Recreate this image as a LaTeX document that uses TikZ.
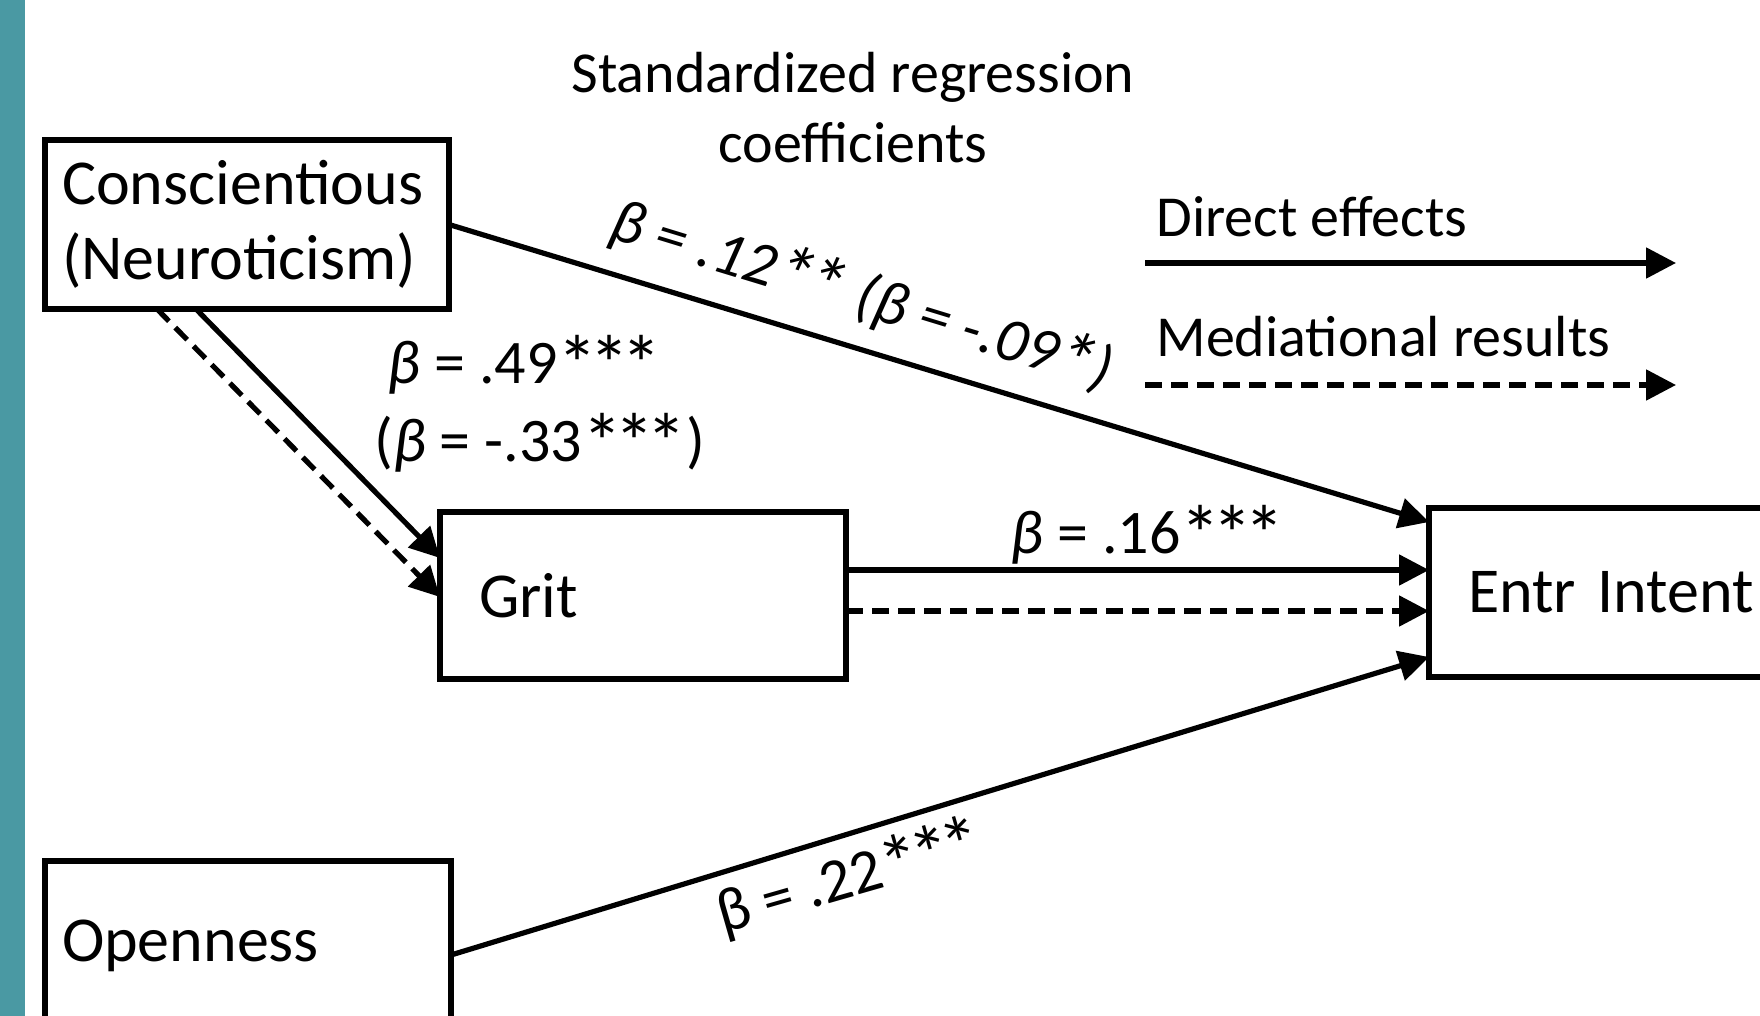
\documentclass[tikz,border=0pt]{standalone}
\usepackage{fontspec}
\setmainfont{Carlito}
\usetikzlibrary{arrows.meta}
\definecolor{barteal}{RGB}{74,153,163}
\newcommand\stk{\raisebox{-0.14em}{\scalebox{1.3}{*}}\kern-0.13em}
\begin{document}
\begin{tikzpicture}[x=0.5pt,y=-0.5pt,
  box/.style={draw=black,line width=2.6pt,outer sep=0pt,anchor=north west,align=left,inner ysep=0pt,
    font=\fontsize{32}{37.5}\selectfont},
  lbl/.style={inner sep=0pt,font=\fontsize{31}{37}\selectfont},
  legtext/.style={inner sep=0pt,anchor=west,font=\fontsize{29}{35}\selectfont},
  arr/.style={line width=2.6pt,-{Triangle[length=15pt,width=15pt]}},
  darr/.style={arr,dash pattern=on 8.5pt off 4.5pt}]
\clip (0,0) rectangle (1760,1016);
\fill[white] (0,0) rectangle (1760,1016);
\fill[barteal] (0,0) rectangle (25,1016);
% title
\node[inner sep=0pt,align=center,font=\fontsize{29}{35}\selectfont] (title) at (853,108)
  {Standardized regression\\coefficients};
% boxes
\node[box,inner xsep=8.5pt,text width=185pt,minimum height=84.5pt] (consc) at (45,140)
  {Conscientious\\(Neuroticism)};
\node[box,inner xsep=19.5pt,text width=164pt,minimum height=83.5pt] (grit) at (440,512) {Grit};
\node[box,inner xsep=19.5pt,text width=200pt,minimum height=84.5pt] (entr) at (1429,508) {Entr Intent};
\node[box,inner xsep=8.5pt,text width=186pt,minimum height=84.5pt] (open) at (45,861) {Openness};
% connectors
\draw[arr] (consc.east) -- ([yshift=-7pt]entr.north west);
\draw[arr] ([xshift=75.5pt]consc.south west) -- ([yshift=-23pt]grit.north west);
\draw[darr] ([xshift=56pt]consc.south west) -- ([yshift=-42.5pt]grit.north west);
\coordinate (g1) at ([yshift=-29pt]grit.north east);
\coordinate (g2) at ([yshift=-49.5pt]grit.north east);
\draw[arr] (g1) -- (g1 -| entr.west);
\draw[darr] (g2) -- (g2 -| entr.west);
\draw[arr] ([yshift=-47pt]open.north east) -- ([yshift=10pt]entr.south west);
% labels
\node[lbl,rotate=-17,font=\fontsize{31}{37}\selectfont\itshape] (l12) at (862,296)
  {β = .12\stk\stk\kern0.13em{} (β = -.09\stk\kern0.1em)};
\node[lbl,anchor=west] (l49) at (387,365) {\textit{β} = .49\stk\stk\stk};
\node[lbl,anchor=west] (l33) at (374,443) {(\textit{β} = -.33\stk\stk\stk\kern0.13em)};
\node[lbl,anchor=west] (l16) at (1010,535) {\textit{β} = .16\stk\stk\stk};
\node[lbl,rotate=16] (l22) at (846,879) {β = .22\stk\stk\stk};
% legend
\node[legtext] (ld) at (1156,217) {Direct effects};
\node[legtext] (lm) at (1156,337) {Mediational results};
\coordinate (ls1) at (1145,263);
\coordinate (le1) at (1676,263);
\coordinate (ls2) at (1145,385);
\coordinate (le2) at (1676,385);
\draw[arr] (ls1) -- (le1);
\draw[darr] (ls2) -- (le2);
\end{tikzpicture}
\end{document}
